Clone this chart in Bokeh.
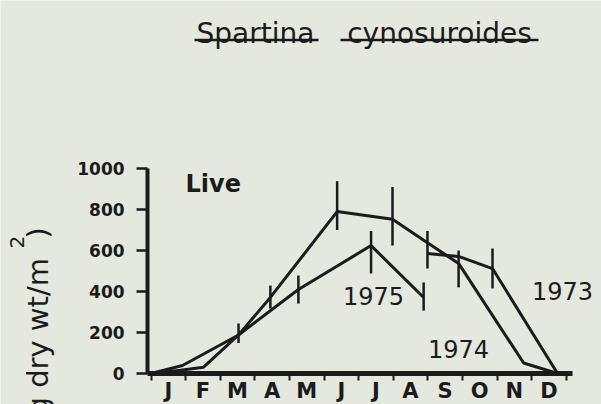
import math
from bokeh.plotting import figure
from bokeh.models import FixedTicker, Label, LabelSet, ColumnDataSource, Range1d
from bokeh.core.properties import value
from bokeh.embed import file_html
from bokeh.resources import INLINE

# ---------------- data (x in months from 1 Jan, y in g dry wt/m^2) ----------------
months = ["J", "F", "M", "A", "M", "J", "J", "A", "S", "O", "N", "D"]
y_ticks = [0, 200, 400, 600, 800, 1000]

x_1973 = [7.99, 8.89, 9.87, 11.75]
y_1973 = [585, 571, 512, 0]

x_1974 = [0, 0.85, 1.52, 2.53, 3.45, 5.38, 6.98, 7.99, 8.89, 10.77, 11.75]
y_1974 = [0, 16, 31, 188, 371, 790, 752, 638, 537, 51, 0]

x_1975 = [0, 0.91, 2.53, 4.26, 6.36, 7.88]
y_1975 = [0, 39, 188, 410, 624, 371]

err_x = [2.53, 3.45, 4.26, 5.38, 6.36, 6.98, 7.88, 7.99, 8.89, 9.87]
err_lo = [149, 317, 341, 700, 488, 624, 307, 512, 420, 415]
err_hi = [244, 429, 478, 938, 695, 910, 444, 695, 600, 610]

title_words = ["Spartina", "cynosuroides"]
series_names = ["1973", "1974", "1975"]

BG = "#e4e8de"
INK = "#1b1b1b"
FONT = "DejaVu Sans"

W, H = 601, 404

# frame covers the whole canvas; axes are drawn at fixed locations
X_AXIS_LO, X_AXIS_HI = -0.10, 12.18
PX_PER_MONTH = 34.6
PX_PER_UNIT = 0.205
X0_PX = 150.5          # canvas x of month 0
Y0_PX = 373.0          # canvas y of value 0

x_start = -X0_PX / PX_PER_MONTH
x_end = (W - X0_PX) / PX_PER_MONTH
y_start = -(H - Y0_PX) / PX_PER_UNIT
y_end = Y0_PX / PX_PER_UNIT


def dx(cx):
    return (cx - X0_PX) / PX_PER_MONTH


def dy(cy):
    return (Y0_PX - cy) / PX_PER_UNIT


p = figure(width=W, height=H, x_range=Range1d(x_start, x_end), y_range=Range1d(y_start, y_end),
           toolbar_location=None, output_backend="svg", min_border=0)
p.outline_line_color = None
p.background_fill_color = BG
p.border_fill_color = BG
p.xgrid.visible = False
p.ygrid.visible = False

# y axis
yax = p.yaxis[0]
yax.fixed_location = X_AXIS_LO
yax.bounds = (0, 1000)
yax.ticker = FixedTicker(ticks=y_ticks)
yax.axis_line_width = 4
yax.axis_line_color = INK
yax.major_tick_line_width = 2.5
yax.major_tick_line_color = INK
yax.major_tick_out = 11
yax.major_tick_in = 0
yax.minor_tick_out = 0
yax.minor_tick_in = 0
yax.major_label_standoff = 12
yax.major_label_text_font = FONT
yax.major_label_text_font_style = "bold"
yax.major_label_text_font_size = "17px"
yax.major_label_text_color = INK

# x axis: ticks at month boundaries, month letters centred between them
bounds = list(range(len(months) + 1))
xax = p.xaxis[0]
xax.fixed_location = 0
xax.bounds = (X_AXIS_LO, X_AXIS_HI)
xax.ticker = FixedTicker(ticks=bounds)
xax.major_label_overrides = {b: "" for b in bounds}
xax.major_label_text_font_size = "0px"
xax.axis_line_width = 5
xax.axis_line_color = INK
xax.major_tick_line_width = 2
xax.major_tick_line_color = INK
xax.major_tick_out = 7
xax.major_tick_in = 0
xax.minor_tick_out = 0
xax.minor_tick_in = 0

msrc = ColumnDataSource(dict(x=[i + 0.5 for i in range(len(months))], y=[0] * len(months), m=months))
p.add_layout(LabelSet(x="x", y="y", text="m", source=msrc, y_offset=-5,
                      text_align="center", text_baseline="top",
                      text_font=value(FONT), text_font_size=value("21px"),
                      text_font_style="bold", text_color=INK))

# series
for xs, ys in [(x_1973, y_1973), (x_1974, y_1974), (x_1975, y_1975)]:
    p.line(xs, ys, line_width=3, color=INK)
p.segment(x0=err_x, y0=err_lo, x1=err_x, y1=err_hi, line_width=2.5, color=INK)


def scr_label(text, sx, sy, size, align="left", bold=False, angle=0.0):
    p.add_layout(Label(x=sx, y=H - sy, x_units="screen", y_units="screen", text=text,
                       angle=angle, text_align=align, text_baseline="alphabetic",
                       text_font=FONT, text_font_size=size,
                       text_font_style="bold" if bold else "normal", text_color=INK))


# title with separately underlined words
scr_label(title_words[0], 255, 33, "28px", align="center")
scr_label(title_words[1], 439, 33, "28px", align="center")
p.segment(x0=[dx(194), dx(340)], y0=[dy(39.5)] * 2, x1=[dx(318), dx(538)], y1=[dy(39.5)] * 2,
          line_width=2.5, color=INK)

# in-plot labels
scr_label("Live", 185, 183, "24px", bold=True)
scr_label(series_names[2], 373, 295, "24px", align="center")
scr_label(series_names[1], 458, 348, "24px", align="center")
scr_label(series_names[0], 562, 290, "24px", align="center")

# rotated y-axis label, partly cut off at the bottom as in the original
scr_label("g dry wt/m", 37, 415, "29px", angle=math.pi / 2)
scr_label("2", 16, 248, "20px", angle=math.pi / 2)
scr_label(")", 37, 238, "29px", angle=math.pi / 2)

html = file_html(p, INLINE)
html = html.replace("<body", '<body style="background-color:%s"' % BG, 1)
open("out.html", "w").write(html)
